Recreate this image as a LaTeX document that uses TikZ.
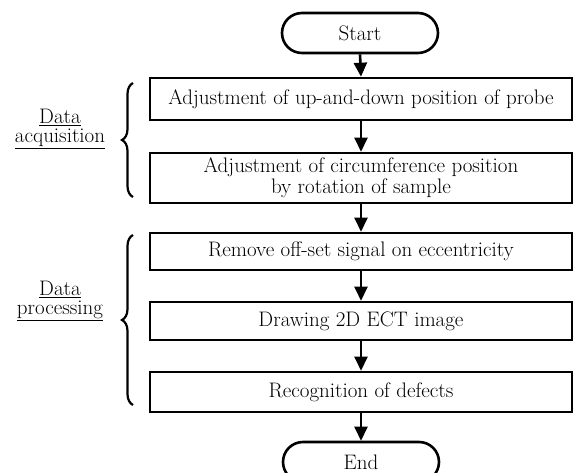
\documentclass[tikz,border=0pt]{standalone}
\usepackage{fontspec}
\usetikzlibrary{arrows.meta,decorations.pathreplacing,shapes.misc}
\begin{document}
\begin{tikzpicture}[x=1pt,y=-1pt,
  every node/.style={font=\fontsize{21}{21}\selectfont},
  stepbox/.style={draw,line width=2.6pt,minimum width=422pt,inner sep=0pt,align=center},
  term/.style={draw,line width=2.6pt,rounded rectangle,minimum width=156pt,minimum height=40pt,inner sep=0pt},
  flow/.style={line width=2.6pt,-{Triangle[width=13pt,length=14pt]}},
  grp/.style={line width=2.2pt,decorate,decoration={brace,amplitude=11pt}},
  lab/.style={align=center,font=\fontsize{21}{19}\selectfont}]
\useasboundingbox (0,0) rectangle (574,473);
\node[term] (start) at (360,33) {Start};
\node[stepbox,minimum height=42pt] (b1) at (361,99) {Adjustment of up-and-down position of probe};
\node[stepbox,minimum height=50pt] (b2) at (361,178) {Adjustment of circumference position\\by rotation of sample};
\node[stepbox,minimum height=37pt] (b3) at (361,251.5) {Remove off-set signal on eccentricity};
\node[stepbox,minimum height=38pt] (b4) at (361,321) {Drawing 2D ECT image};
\node[stepbox,minimum height=40pt] (b5) at (361,392) {Recognition of defects};
\node[term] (end) at (361,462) {End};
\draw[flow] (start.south) -- (b1.north);
\draw[flow] (b1.south) -- (b2.north);
\draw[flow] (b2.south) -- (b3.north);
\draw[flow] (b3.south) -- (b4.north);
\draw[flow] (b4.south) -- (b5.north);
\draw[flow] (b5.south) -- (end.north);
\coordinate (a1) at (133,197);
\coordinate (a2) at (133,83);
\coordinate (p1) at (133,405);
\coordinate (p2) at (133,235);
\draw[grp] (a1) -- (a2);
\draw[grp] (p1) -- (p2);
\node[lab] (la) at (60,129) {\underline{Data}\\\underline{acquisition}};
\node[lab] (lp) at (60,301) {\underline{Data}\\\underline{processing}};
\end{tikzpicture}
\end{document}
